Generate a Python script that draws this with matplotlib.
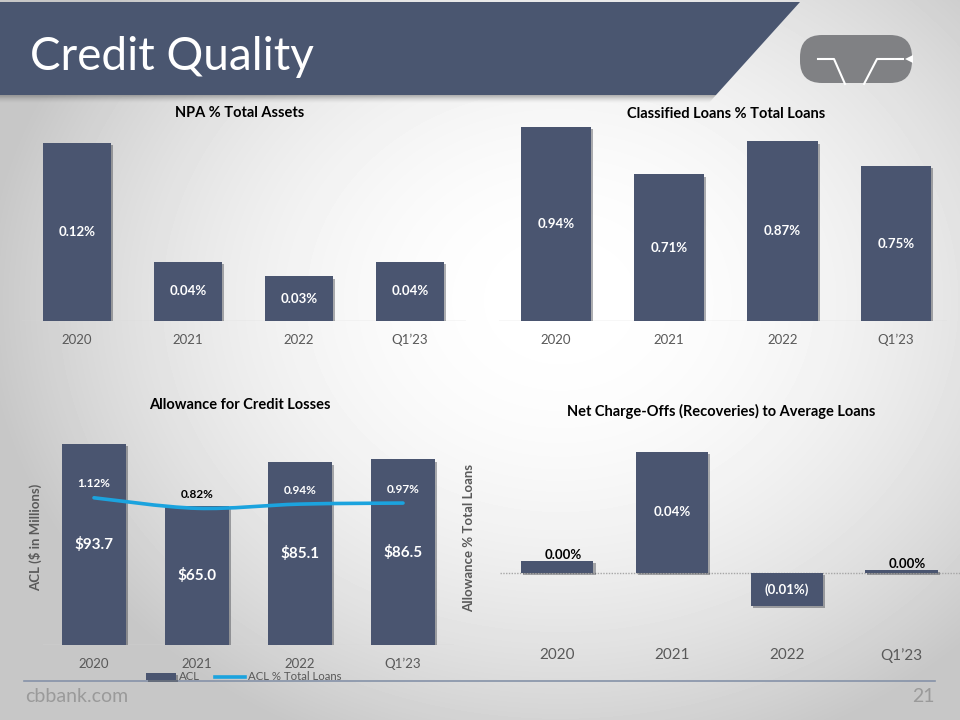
import numpy as np
import matplotlib
matplotlib.use('Agg')
import matplotlib.pyplot as plt
import matplotlib.patheffects as pe
from matplotlib.patches import Polygon, FancyBboxPatch, PathPatch
from matplotlib.path import Path
from matplotlib.lines import Line2D

plt.rcParams['font.family'] = ['Lato', 'DejaVu Sans']

W, H = 960, 720

periodos = ['2020', '2021', '2022', 'Q1\u201923']
npa = [0.12, 0.04, 0.03, 0.04]
clasificados = [0.94, 0.71, 0.87, 0.75]
acl = [93.7, 65.0, 85.1, 86.5]
acl_pct = [1.12, 0.82, 0.94, 0.97]
nco = [0.004, 0.04, -0.011, 0.001]
nco_etiquetas = ['0.00%', '0.04%', '(0.01%)', '0.00%']

azul = '#4a5570'
celeste = '#1ba3de'
gris_texto = '#595959'
sombra = [pe.SimplePatchShadow(offset=(1.5, -1.5), alpha=0.35), pe.Normal()]

fig = plt.figure(figsize=(W / 100, H / 100), dpi=100)

# fondo con degradado
fondo = fig.add_axes([0, 0, 1, 1])
yy, xx = np.mgrid[0:H, 0:W]
d = ((xx - 560) / 600) ** 2 + ((yy - 300) / 500) ** 2
grad = np.clip(1 - 0.24 * d, 0.78, 1)
fondo.imshow(grad, cmap='gray', vmin=0, vmax=1, extent=[0, W, H, 0], aspect='auto', zorder=0)
fondo.set_xlim(0, W)
fondo.set_ylim(H, 0)
fondo.axis('off')

# cabecera
for i in range(8):
    fondo.add_patch(Polygon([(0, 95), (716, 95), (716 - 0.9 * (i + 1), 95 + i + 1), (0, 95 + i + 1)],
                            closed=True, color='#606060', alpha=0.12 * (1 - i / 8), lw=0, zorder=1))
fondo.add_patch(Polygon([(0, 2), (800, 2), (716, 95), (0, 95)], closed=True, color='#4a5670', lw=0, zorder=2))
fondo.text(30, 57, 'Credit Quality', color='white', fontsize=33,
           va='center', ha='left', zorder=3)

# logo
fondo.add_patch(FancyBboxPatch((800, 35), 112, 48, boxstyle='round,pad=0,rounding_size=22',
                               color='#808184', lw=0, zorder=3))
fondo.plot([818, 834, 845], [59, 59, 84], color='white', lw=1.5, zorder=4)
fondo.plot([864, 877, 903], [84, 59, 59], color='white', lw=1.5, zorder=4)
fondo.add_patch(Polygon([(913, 55), (905, 59), (913, 63)], closed=True, color='white', lw=0, zorder=4))

# pie
fondo.plot([24, 935], [681, 681], color='#8592a8', lw=1.2, zorder=1)
fondo.text(25, 697, 'cbbank.com', color='#9a9a9a', fontsize=14, va='center', ha='left')
fondo.text(935, 697, '21', color='#9a9a9a', fontsize=14, va='center', ha='right')


def ejes(x0, y0, x1, y1):
    ax = fig.add_axes([x0 / W, 1 - y1 / H, (x1 - x0) / W, (y1 - y0) / H])
    ax.patch.set_alpha(0)
    for s in ax.spines.values():
        s.set_visible(False)
    ax.set_yticks([])
    ax.tick_params(axis='x', length=0, colors=gris_texto)
    return ax


def titulo(x, y, texto):
    fondo.text(x, y, texto, ha='center', va='center', fontsize=10.5, fontweight='bold', color='black')


x = np.arange(len(periodos))

# NPA % Total Assets
ax1 = ejes(21.5, 113, 465.5, 321)
b = ax1.bar(x, npa, width=0.62, color=azul, zorder=3)
for r in b:
    r.set_path_effects(sombra)
ax1.set_xlim(-0.5, 3.5)
ax1.set_ylim(0, 0.14)
ax1.axhline(0, color='#d9d9d9', lw=1, zorder=1)
ax1.set_xticks(x, periodos, fontsize=9.5)
ax1.tick_params(axis='x', pad=9)
for xi, v in zip(x, npa):
    ax1.text(xi, v / 2, f'{v:.2f}%', ha='center', va='center', color='white', fontsize=9.5, fontweight='bold', zorder=4)
titulo(240, 113, 'NPA % Total Assets')

# Classified Loans % Total Loans
ax2 = ejes(499, 114.6, 947, 321)
b = ax2.bar(x, clasificados, width=0.62, color=azul, zorder=3)
for r in b:
    r.set_path_effects(sombra)
ax2.set_xlim(-0.5, 3.45)
ax2.set_ylim(0, 1.0)
ax2.axhline(0, color='#d9d9d9', lw=1, zorder=1)
ax2.set_xticks(x, periodos, fontsize=9.5)
ax2.tick_params(axis='x', pad=9)
for xi, v in zip(x, clasificados):
    ax2.text(xi, v / 2, f'{v:.2f}%', ha='center', va='center', color='white', fontsize=9.5, fontweight='bold', zorder=4)
titulo(726, 114, 'Classified Loans % Total Loans')

# Allowance for Credit Losses
ax3 = ejes(42.5, 430.5, 454.5, 645)
b = ax3.bar(x, acl, width=0.62, color=azul, zorder=3, label='ACL')
for r in b:
    r.set_path_effects(sombra)
ax3.set_xlim(-0.5, 3.5)
ax3.set_ylim(0, 100)
ax3.axhline(0, color='#d9d9d9', lw=1, zorder=1)
ax3.set_xticks(x, periodos, fontsize=9.5)
ax3.tick_params(axis='x', pad=9)
for xi, v in zip(x, acl):
    ax3.text(xi, v / 2, f'${v:.1f}', ha='center', va='center', color='white', fontsize=11, fontweight='bold', zorder=4)

ax3b = ax3.twinx()
for s in ax3b.spines.values():
    s.set_visible(False)
ax3b.set_yticks([])
ax3b.set_ylim(-3.086, 3.043)
# linea suavizada (curvas de Bezier a partir de los puntos)
pts = np.column_stack([x, acl_pct]).astype(float)
ext = np.vstack([pts[0], pts, pts[-1]])
verts = [tuple(pts[0])]
codes = [Path.MOVETO]
for i in range(len(pts) - 1):
    p0, p1, p2, p3 = ext[i], ext[i + 1], ext[i + 2], ext[i + 3]
    c1 = p1 + (p2 - p0) / 6
    c2 = p2 - (p3 - p1) / 6
    verts += [tuple(c1), tuple(c2), tuple(p2)]
    codes += [Path.CURVE4] * 3
ax3b.add_patch(PathPatch(Path(verts, codes), fill=False, edgecolor=celeste, lw=2.6,
                         capstyle='round', zorder=5))
colores_pct = ['white', 'black', 'white', 'white']
for xi, v, c in zip(x, acl_pct, colores_pct):
    ax3b.annotate(f'{v:.2f}%', (xi, v), xytext=(0, 10), textcoords='offset points',
                  ha='center', va='center', color=c, fontsize=8.5, fontweight='bold', zorder=6)
ax3.set_ylabel('ACL ($ in Millions)', fontsize=9.5, fontweight='bold', color=gris_texto, labelpad=0)
ax3b.set_ylabel('Allowance % Total Loans', fontsize=9.5, fontweight='bold', color=gris_texto, labelpad=6)
fig.legend(handles=[b, Line2D([], [], color=celeste, lw=2.6)], labels=['ACL', 'ACL % Total Loans'],
           loc='center', bbox_to_anchor=(244 / W, 1 - 677 / H), ncol=2, frameon=False,
           fontsize=8.2, labelcolor=gris_texto, handlelength=2.6, handleheight=0.5,
           columnspacing=1.3, handletextpad=0.3)
titulo(240, 405, 'Allowance for Credit Losses')

# Net Charge-Offs (Recoveries) to Average Loans
ax4 = ejes(500, 431, 960, 640)
b = ax4.bar(x, nco, width=0.63, color=azul, zorder=3)
for r in b:
    r.set_path_effects(sombra)
ax4.set_xlim(-0.5, 3.51)
ax4.set_ylim(-0.02215, 0.04694)
ax4.axhline(0, color='#a6a6a6', lw=1, ls=(0, (1, 1)), zorder=1)
ax4.set_xticks(x, periodos, fontsize=11)
ax4.tick_params(axis='x', pad=6)
for xi, v, t in zip(x, nco, nco_etiquetas):
    if abs(v) < 0.005:
        ax4.annotate(t, (xi, v), xytext=(4, 0), textcoords='offset points', ha='center', va='bottom',
                     color='black', fontsize=9.5, fontweight='bold', zorder=4)
    else:
        ax4.text(xi, v / 2, t, ha='center', va='center', color='white', fontsize=9.5, fontweight='bold', zorder=4)
titulo(721, 411, 'Net Charge-Offs (Recoveries) to Average Loans')

fig.savefig('out.png', dpi=100)
